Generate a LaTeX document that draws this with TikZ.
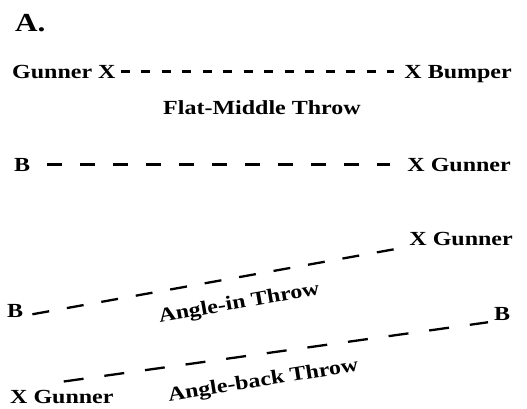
\documentclass[tikz,border=0pt]{standalone}
\usepackage{fontspec}
\setmainfont{Liberation Serif}[FakeStretch=1.2]
\usetikzlibrary{positioning, calc}

\begin{document}
\begin{tikzpicture}[x=1pt, y=1pt,
        lbl/.style={inner sep=0pt, font=\fontsize{20}{24}\selectfont\bfseries},
        ttl/.style={inner sep=0pt, font=\fontsize{26}{30}\selectfont\bfseries},
        throw/.style={lbl, anchor=base},
        fine/.style={line width=2.3pt, dash pattern=on 9pt off 11.5pt},
        wide/.style={line width=2.3pt, dash pattern=on 15pt off 18pt},
        slant/.style={line width=2.3pt, dash pattern=on 17pt off 18pt},
        slantb/.style={line width=2.3pt, dash pattern=on 20pt off 21pt},
    ]
        \useasboundingbox (0,0) rectangle (527,408);

        % Panel letter
        \node[ttl, anchor=base west] (panel) at (15,376) {A.};

        % Flat-middle throw
        \node[lbl, anchor=base west] (gunner1) at (12,330) {Gunner X};
        \node[lbl, anchor=base east] (bumper1) at (512,330) {X Bumper};
        \node[throw] (flat) at (262,294) {Flat-Middle Throw};

        % Second flat row
        \node[lbl, anchor=base west] (b2) at (14,237) {B};
        \node[lbl, anchor=base east] (gunner2) at (511,237) {X Gunner};

        % Angle-in throw
        \node[lbl, anchor=base east] (gunner3) at (513,163) {X Gunner};
        \node[lbl, anchor=base west] (b3) at (7,91) {B};
        \node[throw, rotate=10] (anglein) at (240,99.5) {Angle-in Throw};

        % Angle-back throw
        \node[lbl, anchor=base west] (gunner4) at (10,5) {X Gunner};
        \node[lbl, anchor=base west] (b4) at (494,88) {B};
        \node[throw, rotate=9] (angleback) at (264,22) {Angle-back Throw};

        % Dashed throws
        \draw[fine] ([xshift=5pt]gunner1.east) -- ([xshift=-10pt]gunner1.east -| bumper1.west);
        \draw[wide] ([xshift=17pt]b2.east) -- ([xshift=-17pt]b2.east -| gunner2.west);
        \draw[slant] ($(b3.south east)+(9,3)$) -- ($(gunner3.south west)+(-5,-2)$);
        \draw[slantb] ($(gunner4.east)+(-50,15)$) -- ($(b4.south west)+(-6,-2)$);
    \end{tikzpicture}
\end{document}
